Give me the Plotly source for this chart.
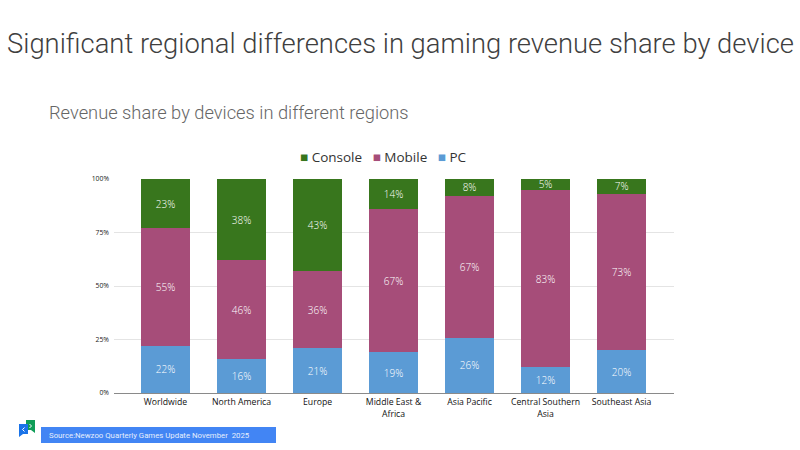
import plotly.graph_objects as go

regions = ["Worldwide", "North America", "Europe", "Middle East &<br>Africa",
           "Asia Pacific", "Central Southern<br>Asia", "Southeast Asia"]
pc_share = [22, 16, 21, 19, 26, 12, 20]
mobile_share = [55, 46, 36, 67, 67, 83, 73]
console_share = [23, 38, 43, 14, 8, 5, 7]
y_ticks = [0, 25, 50, 75, 100]
y_tick_labels = ["0%", "25%", "50%", "75%", "100%"]

W, H = 800, 450
PX = lambda x: x / W
PY = lambda y: 1 - y / H
LABEL_COLOR = "#ffffff"
GREEN, MAGENTA, BLUE = "#38761d", "#a64d79", "#5b9bd5"


def stacked(name, values, color):
    return go.Bar(
        name=name, x=regions, y=values, width=0.645,
        marker=dict(color=color, line=dict(width=0)),
        text=[f"{v}%" for v in values], textposition="inside",
        insidetextanchor="middle", textangle=0, constraintext="none",
        textfont=dict(family="Open Sans", size=10, color=LABEL_COLOR, weight=300),
        hoverinfo="x+y+name",
    )


def legend_entry(color, label):
    return f'<span style="color:{color}">■</span> {label}'


fig = go.Figure([
    stacked("PC", pc_share, BLUE),
    stacked("Mobile", mobile_share, MAGENTA),
    stacked("Console", console_share, GREEN),
])

legend_text = "   ".join([legend_entry(GREEN, "Console"),
                          legend_entry(MAGENTA, "Mobile"),
                          legend_entry(BLUE, "PC")])

chevrons = [
    dict(type="path", xref="paper", yref="paper", line=dict(color="white", width=1),
         path=f"M {PX(29.5)} {PY(424)} L {PX(31.5)} {PY(426)} L {PX(29.5)} {PY(428)}"),
    dict(type="path", xref="paper", yref="paper", line=dict(color="white", width=1),
         path=f"M {PX(24.5)} {PY(427.5)} L {PX(22.5)} {PY(429.5)} L {PX(24.5)} {PY(431.5)}"),
]

fig.update_layout(
    width=W, height=H, margin=dict(l=0, r=0, t=0, b=0),
    paper_bgcolor="white", plot_bgcolor="white",
    barmode="stack", barnorm="percent",
    showlegend=False,
    xaxis=dict(domain=[PX(114), PX(674)], range=[-0.678, 6.69], showgrid=False, automargin=False,
               showline=True, linecolor="#8a8a8a", linewidth=1, ticks="", ticklabelstandoff=1,
               tickangle=0, tickfont=dict(family="Open Sans", size=8.7, color="#111111", weight=500)),
    yaxis=dict(domain=[PY(393), PY(179)], range=[0, 100], tickvals=y_ticks, automargin=False,
               ticktext=y_tick_labels, gridcolor="#e4e4e4", gridwidth=1,
               zeroline=False, ticks="", ticklabelstandoff=4,
               tickfont=dict(family="Open Sans", size=6.8, color="#222222", weight=500)),
    annotations=[
        dict(text="Significant regional differences in gaming revenue share by device",
             xref="paper", yref="paper", x=PX(5), y=PY(44), xanchor="left", yanchor="middle",
             showarrow=False, font=dict(family="Roboto", size=27.4, color="#3f3f3f", weight=300)),
        dict(text="Revenue share by devices in different regions",
             xref="paper", yref="paper", x=PX(47), y=PY(113), xanchor="left", yanchor="middle",
             showarrow=False, font=dict(family="Roboto", size=18.3, color="#666666", weight=300)),
        dict(text=legend_text,
             xref="paper", yref="paper", x=PX(383), y=PY(157), xanchor="center", yanchor="middle",
             showarrow=False, font=dict(family="Open Sans", size=13.5, color="#333333")),
        dict(text="Source:Newzoo Quarterly Games Update November  2025",
             xref="paper", yref="paper", x=PX(46.5), y=PY(435), xanchor="left", yanchor="middle",
             showarrow=False, font=dict(family="Roboto", size=7.8, color="#e6eefc")),
    ],
    shapes=[
        dict(type="rect", xref="paper", yref="paper", x0=PX(41), x1=PX(276), y0=PY(443), y1=PY(427),
             fillcolor="#4285f4", line=dict(width=0), layer="below"),
        dict(type="path", xref="paper", yref="paper", fillcolor="#0f9d58", line=dict(width=0),
             path=f"M {PX(26)} {PY(420)} L {PX(35)} {PY(420)} L {PX(35)} {PY(433)} "
                  f"L {PX(31)} {PY(430)} L {PX(26)} {PY(430)} Z"),
        dict(type="path", xref="paper", yref="paper", fillcolor="#1a73e8", line=dict(width=0),
             path=f"M {PX(19)} {PY(424)} L {PX(28)} {PY(424)} L {PX(28)} {PY(434)} "
                  f"L {PX(23)} {PY(434)} L {PX(19)} {PY(437)} Z"),
        *chevrons,
    ],
)

fig.write_html("out.html")
